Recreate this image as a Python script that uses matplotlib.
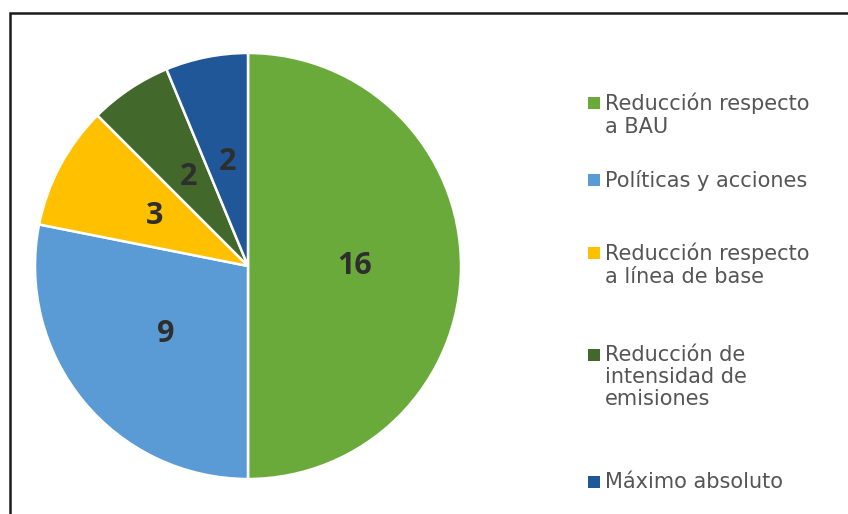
import matplotlib.pyplot as plt
from matplotlib.patches import Rectangle

categorias = ["Reducción respecto\na BAU",
              "Políticas y acciones",
              "Reducción respecto\na línea de base",
              "Reducción de\nintensidad de\nemisiones",
              "Máximo absoluto"]
valores = [16, 9, 3, 2, 2]
colores = ["#6aaa3a", "#5b9bd5", "#ffc000", "#43682b", "#1f5799"]

W, H = 848, 514
fig = plt.figure(figsize=(W / 100, H / 100), dpi=100)

# marco negro (solo se ven los bordes superior e izquierdo)
fig.patches.append(Rectangle((10 / W, -0.05), 1.2, 1 - 13 / H + 0.05,
                             transform=fig.transFigure, fill=False,
                             edgecolor="#1a1a1a", linewidth=1.8))

ax = fig.add_axes([35 / W, (H - 479) / H, 426 / W, 426 / H])
cuñas, textos, autotextos = ax.pie(
    valores, colors=colores, startangle=90, counterclock=False,
    autopct=lambda p: "%d" % round(p * sum(valores) / 100),
    pctdistance=0.5, radius=1,
    wedgeprops=dict(edgecolor="white", linewidth=1.8))
for t in autotextos:
    t.set_fontsize(22)
    t.set_fontweight("bold")
    t.set_color("#2e2e2e")
    t.set_fontfamily("Open Sans")
ax.set_xlim(-1, 1)
ax.set_ylim(-1, 1)
ax.set_aspect("equal")

# leyenda a la derecha
y_lineas = [103, 180, 253, 355, 482]
for cat, col, y in zip(categorias, colores, y_lineas):
    fig.patches.append(Rectangle((588 / W, 1 - (y + 6) / H), 12 / W, 12 / H,
                                 transform=fig.transFigure, facecolor=col,
                                 edgecolor="none"))
    fig.text(605 / W, 1 - (y - 10) / H, cat, fontsize=15, color="#555555",
             family="DejaVu Sans", va="top", ha="left", linespacing=1.14)

fig.savefig("out.png", dpi=100)
